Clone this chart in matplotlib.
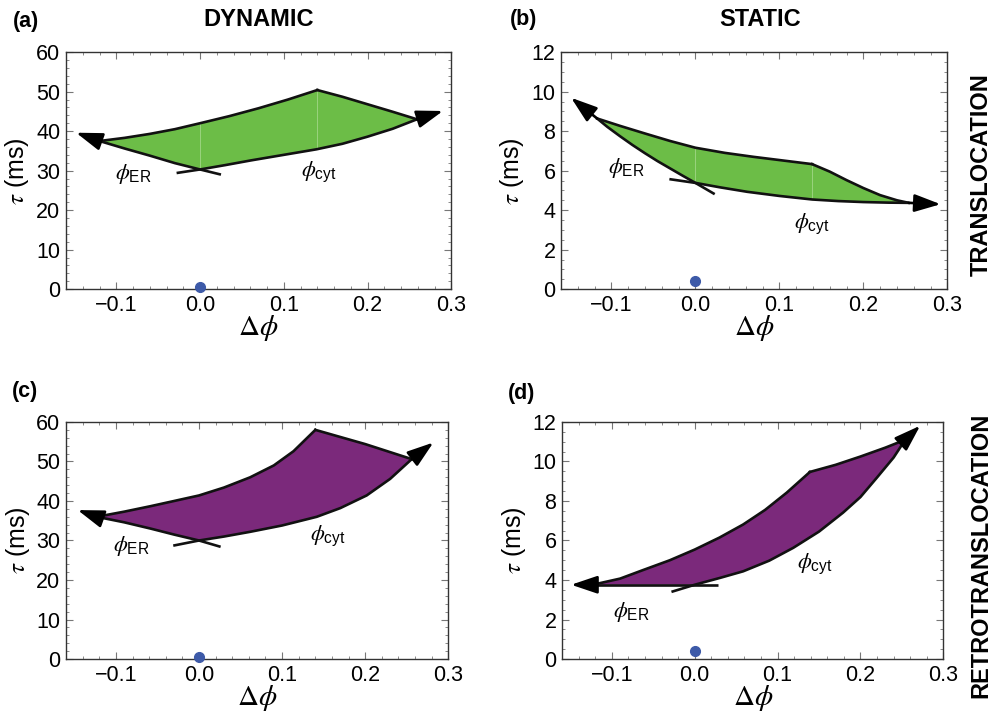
import numpy as np
import matplotlib
matplotlib.use('Agg')
import matplotlib.pyplot as plt
from matplotlib.ticker import MultipleLocator, FuncFormatter

plt.rcParams['font.family'] = ['Liberation Sans', 'DejaVu Sans']
plt.rcParams['mathtext.fontset'] = 'stix'
# custom math set for the phi labels: serif italic phi, sans subscript
plt.rcParams['mathtext.rm'] = 'Liberation Sans'
plt.rcParams['mathtext.sf'] = 'Liberation Sans'
plt.rcParams['mathtext.it'] = 'STIXGeneral:italic'
plt.rcParams['mathtext.bf'] = 'Liberation Sans:bold'

# ---- data ----
# each edge: ER line (tail, origin, ..., vertex, arrow tip), cyt line (same),
# upper-left edge (ER vertex -> corner) and upper-right edge (corner -> cyt vertex)

# (a) dynamic, translocation
a_er_x = [0.025, 0.0, -0.03, -0.06, -0.09, -0.12, -0.148]
a_er_y = [29.0, 30.3, 31.9, 33.8, 35.6, 37.5, 39.6]
a_cyt_x = [-0.028, 0.0, 0.03, 0.061, 0.1, 0.139, 0.17, 0.2, 0.23, 0.259, 0.29]
a_cyt_y = [29.4, 30.3, 31.4, 32.6, 34.0, 35.4, 36.8, 38.6, 40.6, 43.0, 45.1]
a_up_x = [-0.12, -0.09, -0.06, -0.03, 0.0, 0.035, 0.07, 0.105, 0.14]
a_up_y = [37.5, 38.3, 39.3, 40.5, 42.0, 43.8, 45.8, 48.0, 50.4]
a_rt_x = [0.14, 0.17, 0.2, 0.23, 0.259]
a_rt_y = [50.4, 48.7, 46.8, 44.9, 43.0]

# (b) static, translocation
b_er_x = [0.023, 0.0, -0.015, -0.03, -0.045, -0.06, -0.075, -0.09, -0.105, -0.117, -0.148]
b_er_y = [4.81, 5.38, 5.74, 6.11, 6.48, 6.88, 7.30, 7.75, 8.22, 8.64, 9.69]
b_cyt_x = [-0.031, 0.0, 0.03, 0.0615, 0.1, 0.139, 0.17, 0.2, 0.23, 0.254, 0.292]
b_cyt_y = [5.57, 5.38, 5.15, 4.93, 4.72, 4.54, 4.46, 4.41, 4.38, 4.37, 4.30]
b_up_x = [-0.117, -0.09, -0.06, -0.03, 0.0, 0.035, 0.069, 0.105, 0.139]
b_up_y = [8.64, 8.27, 7.88, 7.50, 7.16, 6.90, 6.70, 6.51, 6.33]
b_rt_x = [0.139, 0.16, 0.18, 0.2, 0.22, 0.24, 0.254]
b_rt_y = [6.33, 5.95, 5.52, 5.12, 4.76, 4.50, 4.37]

# (c) dynamic, retrotranslocation
c_er_x = [0.026, 0.0, -0.03, -0.058, -0.09, -0.123, -0.146]
c_er_y = [28.4, 30.0, 31.5, 33.0, 34.6, 36.0, 37.7]
c_cyt_x = [-0.031, 0.0, 0.03, 0.0616, 0.1, 0.1417, 0.17, 0.2017, 0.23, 0.256, 0.282]
c_cyt_y = [28.7, 30.0, 31.0, 32.2, 33.8, 36.0, 38.2, 41.4, 45.6, 50.6, 54.8]
c_up_x = [-0.123, -0.09, -0.058, -0.03, 0.0, 0.03, 0.0616, 0.09, 0.1137, 0.14]
c_up_y = [36.0, 37.3, 38.7, 40.0, 41.4, 43.4, 46.0, 49.0, 52.6, 58.0]
c_rt_x = [0.14, 0.2, 0.256]
c_rt_y = [58.0, 54.4, 50.6]

# (d) static, retrotranslocation
d_er_x = [0.028, 0.0, -0.123, -0.149]
d_er_y = [3.76, 3.76, 3.76, 3.76]
d_cyt_x = [-0.028, 0.0, 0.03, 0.0585, 0.09, 0.119, 0.15, 0.179, 0.2, 0.22, 0.24, 0.254, 0.272]
d_cyt_y = [3.40, 3.76, 4.10, 4.44, 4.98, 5.63, 6.45, 7.41, 8.2, 9.19, 10.2, 11.1, 11.81]
d_up_x = [-0.123, -0.09, -0.0625, -0.03, 0.0, 0.03, 0.0585, 0.085, 0.111, 0.139]
d_up_y = [3.76, 4.07, 4.50, 5.00, 5.54, 6.15, 6.81, 7.55, 8.42, 9.47]
d_rt_x = [0.139, 0.17, 0.2, 0.23, 0.254]
d_rt_y = [9.47, 9.83, 10.25, 10.7, 11.1]

# reference point (blue dot)
dot_x = [0.0, 0.0, 0.0, 0.0]
dot_y = [0.5, 0.4, 0.5, 0.4]

# label positions (phi_ER, phi_cyt)
lab_er = [(-0.102, 29.1), (-0.104, 6.13), (-0.104, 28.6), (-0.099, 2.39)]
lab_cyt = [(0.12, 29.6), (0.117, 3.33), (0.134, 31.1), (0.123, 4.83)]

ymax = [60, 12, 60, 12]
ystep = [10, 2, 10, 2]
yminor = [2, 0.5, 2, 0.5]

green = '#6cbd47'
purple = '#7b297b'
fills = [green, green, purple, purple]


def xfmt(v, pos):
    if abs(v) < 1e-9:
        v = 0.0
    return f'{v:.1f}'.replace('-', '\u2212')


fig = plt.figure(figsize=(9.93, 7.14), dpi=100)
rects = [[0.0665, 0.595, 0.388, 0.332],
         [0.565, 0.595, 0.389, 0.332],
         [0.0665, 0.077, 0.385, 0.332],
         [0.566, 0.077, 0.384, 0.332]]

panels = [(a_er_x, a_er_y, a_cyt_x, a_cyt_y, a_up_x, a_up_y, a_rt_x, a_rt_y),
          (b_er_x, b_er_y, b_cyt_x, b_cyt_y, b_up_x, b_up_y, b_rt_x, b_rt_y),
          (c_er_x, c_er_y, c_cyt_x, c_cyt_y, c_up_x, c_up_y, c_rt_x, c_rt_y),
          (d_er_x, d_er_y, d_cyt_x, d_cyt_y, d_up_x, d_up_y, d_rt_x, d_rt_y)]

for i, (erx, ery, cx, cy, ux, uy, rx, ry) in enumerate(panels):
    ax = fig.add_axes(rects[i])

    # filled region: origin -> ER vertex -> corner -> cyt vertex -> origin
    px = erx[1:-1] + ux[1:] + rx[1:] + cx[-2:0:-1][1:]
    py = ery[1:-1] + uy[1:] + ry[1:] + cy[-2:0:-1][1:]
    ax.fill(px, py, color=fills[i], lw=0, zorder=1)

    # faint mesh seams inside the region (green panels)
    if fills[i] == green:
        k = ux.index(0.0)
        ax.plot([erx[1], ux[k]], [ery[1], uy[k]], color='#9ad37e', lw=0.7, zorder=1.5)
        ax.plot([ux[-1], ux[-1]], [uy[-1], np.interp(ux[-1], cx, cy)],
                color='#9ad37e', lw=0.7, zorder=1.5)

    lw = 1.9
    ax.plot(erx[:-1], ery[:-1], color='#111111', lw=lw, zorder=3, solid_capstyle='butt')
    ax.plot(cx[:-1], cy[:-1], color='#111111', lw=lw, zorder=3, solid_capstyle='butt')
    ax.plot(ux, uy, color='#111111', lw=lw, zorder=3, solid_joinstyle='round')
    ax.plot(rx, ry, color='#111111', lw=lw, zorder=3, solid_joinstyle='round')
    for xs, ys in [(erx, ery), (cx, cy)]:
        ax.annotate('', xy=(xs[-1], ys[-1]), xytext=(xs[-2], ys[-2]),
                    arrowprops=dict(arrowstyle='-|>,head_length=0.8,head_width=0.27',
                                    color='black', lw=lw, shrinkA=0, shrinkB=0,
                                    mutation_scale=20), zorder=4)

    ax.plot(dot_x[i], dot_y[i], 'o', color='#3d5aa8', ms=7, zorder=5, clip_on=False)

    ax.text(lab_er[i][0], lab_er[i][1], r'$\phi_{\mathrm{ER}}$', fontsize=16,
            ha='left', va='center', zorder=6, math_fontfamily='custom')
    ax.text(lab_cyt[i][0], lab_cyt[i][1], r'$\phi_{\mathrm{cyt}}$', fontsize=16,
            ha='left', va='center', zorder=6, math_fontfamily='custom')

    ax.set_xlim(-0.16, 0.3)
    ax.set_ylim(0, ymax[i])
    ax.xaxis.set_major_locator(MultipleLocator(0.1))
    ax.xaxis.set_minor_locator(MultipleLocator(0.02))
    ax.xaxis.set_major_formatter(FuncFormatter(xfmt))
    ax.yaxis.set_major_locator(MultipleLocator(ystep[i]))
    ax.yaxis.set_minor_locator(MultipleLocator(yminor[i]))
    ax.tick_params(which='both', direction='in', top=True, right=True,
                   color='#777777', labelsize=15.5, pad=4)
    ax.tick_params(which='major', length=5, width=0.8)
    ax.tick_params(which='minor', length=2.5, width=0.6)
    for s in ax.spines.values():
        s.set_color('#333333')
        s.set_linewidth(1.0)

    ax.set_xlabel(r'$\Delta\phi$', fontsize=21)
    ax.xaxis.set_label_coords(0.5, -0.10)
    ax.set_ylabel(r'$\tau$ (ms)', fontsize=18)
    ax.yaxis.set_label_coords(-0.09, 0.5)

# panel letters, column titles and row labels
fig.text(13 / 993, 1 - 22 / 714, '(a)', fontsize=15.5, fontweight='bold', va='center')
fig.text(510 / 993, 1 - 20 / 714, '(b)', fontsize=15.5, fontweight='bold', va='center')
fig.text(12 / 993, 1 - 391 / 714, '(c)', fontsize=15.5, fontweight='bold', va='center')
fig.text(508 / 993, 1 - 394 / 714, '(d)', fontsize=15.5, fontweight='bold', va='center')
fig.text(259 / 993, 1 - 20 / 714, 'DYNAMIC', fontsize=17, fontweight='bold',
         ha='center', va='center')
fig.text(760 / 993, 1 - 19 / 714, 'STATIC', fontsize=17, fontweight='bold',
         ha='center', va='center')
fig.text(981 / 993, 1 - 175 / 714, 'TRANSLOCATION', fontsize=17, fontweight='bold',
         ha='center', va='center', rotation=90)
fig.text(981 / 993, 1 - 555 / 714, 'RETROTRANSLOCATION', fontsize=17, fontweight='bold',
         ha='center', va='center', rotation=90)

plt.savefig('out.png', dpi=100)
